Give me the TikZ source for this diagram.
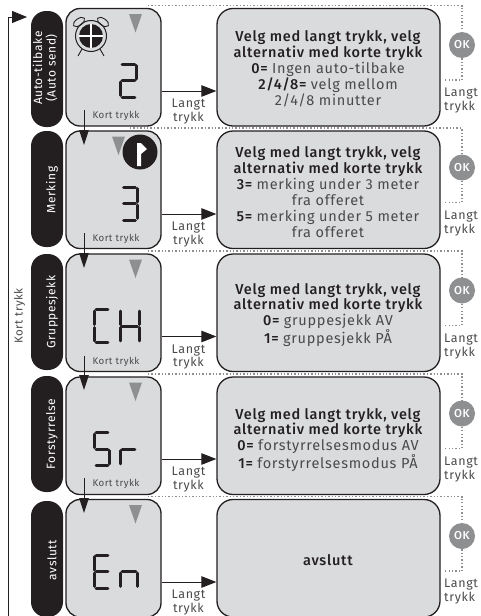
\documentclass[tikz,border=0pt]{standalone}
\usepackage{fontspec}
\setmainfont[LetterSpace=5,BoldFont={Fira Sans Medium}]{Fira Sans}
\usetikzlibrary{arrows.meta}
\definecolor{ink}{HTML}{231F20}
\definecolor{panelgrey}{HTML}{DADBDD}
\definecolor{midgrey}{HTML}{8E8F91}
\definecolor{softink}{HTML}{4A4A4C}
\tikzset{
  lcd/.style={draw=ink,fill=panelgrey,line width=1.3pt,rounded corners=14pt,minimum width=95pt,minimum height=117.5pt,inner sep=0pt},
  panel/.style={draw=ink,fill=panelgrey,line width=1.3pt,rounded corners=16pt,minimum width=223pt,minimum height=117.5pt,inner sep=0pt},
  pill/.style={fill=ink,rounded corners=15pt,minimum width=32pt,minimum height=116pt,inner sep=0pt},
  pilltext/.style={rotate=90,text=white,font=\fontsize{12}{13.5}\selectfont,align=center,inner sep=0pt},
  longarrow/.style={draw=ink,line width=1pt,-{Triangle[length=15pt,width=11.5pt]}},
  downarrow/.style={draw=ink,line width=1pt,-{Triangle[length=15pt,width=9.5pt]}},
  dotline/.style={draw=midgrey,line width=1.3pt,dash pattern=on 1.3pt off 2.1pt},
  okdisc/.style={circle,fill=midgrey,text=white,minimum size=26pt,inner sep=0pt,font=\fontsize{11.5}{12}\bfseries\selectfont},
  langt/.style={text=softink,font=\fontsize{12.5}{13.3}\selectfont,align=center,inner sep=0pt},
  langtr/.style={text=softink,font=\fontsize{12.5}{14}\selectfont,align=left,anchor=west,inner sep=0pt},
  kort/.style={text=softink,font=\fontsize{9.7}{11}\selectfont,inner sep=0pt},
  paneltext/.style={text=ink,font=\fontsize{14.5}{15.9}\selectfont,align=center,inner sep=0pt},
  seg/.style={draw=ink,line width=3pt,line cap=round},
  marker/.style={fill=midgrey}
}
\newcommand{\rg}[1]{{\color{softink}\mdseries #1}}
\newcommand{\sega}{\draw[seg] (1.6,0)--(\digw-1.6,0);}
\newcommand{\segb}{\draw[seg] (\digw,1.6)--(\digw,15);}
\newcommand{\segc}{\draw[seg] (\digw,18)--(\digw,31.4);}
\newcommand{\segd}{\draw[seg] (1.6,33)--(\digw-1.6,33);}
\newcommand{\sege}{\draw[seg] (0,18)--(0,31.4);}
\newcommand{\segf}{\draw[seg] (0,1.6)--(0,15);}
\newcommand{\segg}{\draw[seg] (1.6,16.5)--(\digw-1.6,16.5);}
\newcommand{\digit}[4]{\begin{scope}[shift={(#1,#2)}]\def\digw{#3}\foreach \s in {#4}{\csname seg\s\endcsname}\end{scope}}
\begin{document}
\begin{tikzpicture}[x=1pt,y=-1pt]
\useasboundingbox (0,0) rectangle (480,616);
% LCD screens and panels
\node[lcd] (lcd1) at (113.5,67.25) {};
\node[lcd] (lcd2) at (113.5,189.75) {};
\node[lcd] (lcd3) at (113.5,312.75) {};
\node[lcd] (lcd4) at (113.5,435.75) {};
\node[lcd] (lcd5) at (113.5,558.25) {};
\node[panel] (box1) at (328.5,67.25) {};
\node[panel] (box2) at (328.5,189.75) {};
\node[panel] (box3) at (328.5,312.75) {};
\node[panel] (box4) at (328.5,435.75) {};
\node[panel] (box5) at (328.5,558.25) {};
% pills
\node[pill] (pill1) at (47,69) {};
\node[pill] (pill2) at (47,189) {};
\node[pill] (pill3) at (47,312) {};
\node[pill] (pill4) at (47,434) {};
\node[pill] (pill5) at (47,559) {};
\node[pilltext] (pt1) at (45,68) {Auto-tilbake\\(Auto send)};
\node[pilltext] (pt2) at (52,190) {Merking};
\node[pilltext] (pt3) at (52,312) {Gruppesjekk};
\node[pilltext] (pt4) at (52,434) {Forstyrrelse};
\node[pilltext] (pt5) at (52,560) {avslutt};
% panel text
\node[paneltext] (tx1) at (328,69) {\bfseries Velg med langt trykk, velg\\\bfseries alternativ med korte trykk\\\bfseries 0= \rg{Ingen auto-tilbake}\\\bfseries 2/4/8= \rg{velg mellom}\\\rg{2/4/8 minutter}};
\node[paneltext] (tx2) at (328,192) {\bfseries Velg med langt trykk, velg\\\bfseries alternativ med korte trykk\\\bfseries 3= \rg{merking under 3 meter}\\\rg{fra offeret}\\\bfseries 5= \rg{merking under 5 meter}\\\rg{fra offeret}};
\node[paneltext] (tx3) at (328,315) {\bfseries Velg med langt trykk, velg\\\bfseries alternativ med korte trykk\\\bfseries 0= \rg{gruppesjekk AV}\\\bfseries 1= \rg{gruppesjekk PÅ}};
\node[paneltext] (tx4) at (328,440) {\bfseries Velg med langt trykk, velg\\\bfseries alternativ med korte trykk\\\bfseries 0= \rg{forstyrrelsesmodus AV}\\\bfseries 1= \rg{forstyrrelsesmodus PÅ}};
\node[paneltext] (tx5) at (328,560) {\bfseries avslutt};
% long-press arrows
\foreach \r/\y in {1/91,2/214,3/336.5,4/459,5/582}{
  \draw[longarrow] (lcd\r.east |- 0,\y) -- (box\r.west |- 0,\y);
  \node[langt] (lt\r) at (188.5,\y+20.5) {Langt\\trykk};
}
% short-press labels and arrows
\foreach \r/\y in {1/116,2/239,3/362,4/484}{
  \node[kort] (k\r) at (116,\y) {Kort trykk};
}
\coordinate (a1) at (84,110); \coordinate (b1) at (84,145);
\coordinate (a2) at (84,233); \coordinate (b2) at (84,268);
\coordinate (a3) at (84,355.5); \coordinate (b3) at (84,390);
\coordinate (a4) at (84,478); \coordinate (b4) at (84,513);
\foreach \r in {1,2,3,4}{\draw[downarrow] (a\r) -- (b\r);}
% return line
\coordinate (ret0) at (8,616);
\coordinate (ret1) at (27,17);
\draw[longarrow,-{Triangle[length=15pt,width=12pt]}] (ret0) |- (ret1);
\node[text=softink,font=\fontsize{11.5}{12}\selectfont,rotate=90,inner sep=0pt] (kortret) at (19.5,316) {Kort trykk};
% OK buttons with dotted lines
\foreach \r/\t/\sx in {1/8.5/148,2/131/130,3/254/148,4/377/148,5/499.5/148}{
  \node[okdisc] (ok\r) at (462,\t+36.5) {OK};
  \coordinate (dta\r) at (\sx,\t-3);
  \coordinate (dtb\r) at (445,\t+71.5);
  \draw[dotline] (dta\r) -| (ok\r.north);
  \draw[dotline] (ok\r.south) |- (dtb\r);
  \node[langtr] (lr\r) at (444,\t+92.5) {Langt\\trykk};
}
% grey triangles
\foreach \x/\t in {129/8.5,112/131,129/254,129/377,129/499.5}{
  \fill[marker] (\x,\t+5.5) -- (\x+13,\t+5.5) -- (\x+6.5,\t+24) -- cycle;
}
% alarm clock
\draw[ink,line width=1pt] (91,36) circle (15.5);
\fill[ink] (91,36) circle (12);
\draw[white,line width=1.6pt] (79,36) -- (103,36) (91,24) -- (91,48);
\draw[ink,line width=.9pt,rotate around={35:(79,22)}] (79,22) ellipse (6.5 and 3.4);
\draw[ink,line width=.9pt,rotate around={-35:(103,22)}] (103,22) ellipse (6.5 and 3.4);
\draw[ink,line width=.9pt] (82,49) -- (78,56) (100,49) -- (104,56);
% flag
\fill[ink] (140,152) circle (17.5);
\fill[white] (137,143) -- (141,143) -- (147,149) -- (141,154) -- (141,166) -- (137,166) -- cycle;
% seven-segment digits
\digit{120.5}{64}{16}{a,b,g,e,d}
\digit{122}{187}{15}{a,b,g,c,d}
\digit{94.5}{309.5}{15}{a,f,e,d}
\digit{120}{309.5}{19}{f,b,g,e,c}
\digit{94.5}{432.5}{15}{a,f,g,c,d}
\digit{120.5}{432.5}{16}{e,g}
\digit{94.5}{555}{15}{a,f,g,e,d}
\digit{120.5}{555}{17}{e,c,g}
\end{tikzpicture}
\end{document}
